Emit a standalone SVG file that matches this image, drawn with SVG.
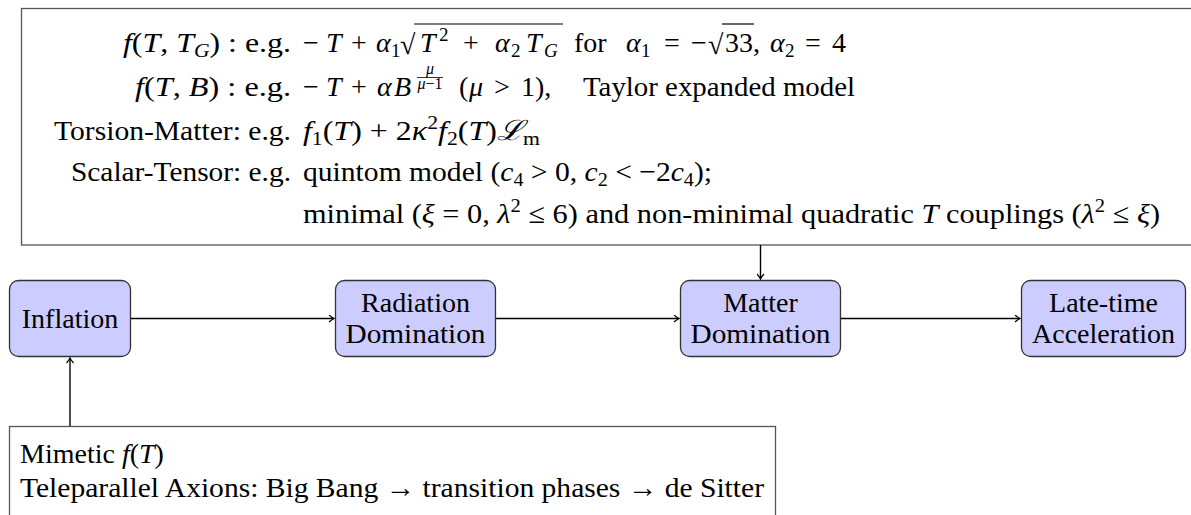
<svg xmlns="http://www.w3.org/2000/svg" width="1191" height="515" viewBox="0 0 1191 515">
<defs>
<style>
text{font-family:"Liberation Serif","DejaVu Serif",serif;font-size:28px;fill:#000}
.i{font-style:italic}
.s{font-size:19px}
.ss{font-size:16px}
.node rect{fill:#ccccff;stroke:#333;stroke-width:1.3}
.box{fill:none;stroke:#555;stroke-width:1.3}
.conn line{stroke:#000;stroke-width:1.4}
.vin{stroke:#000;stroke-width:1.2}
</style>
<marker id="ar" viewBox="-6 -4 7 8" refX="0" refY="0" markerWidth="7" markerHeight="8" markerUnits="userSpaceOnUse" orient="auto">
<path d="M-5,-3.5 Q-1.5,-0.6 0,0 Q-1.5,0.6 -5,3.5" fill="none" stroke="#000" stroke-width="1.2"/>
</marker>
</defs>
<rect width="1191" height="515" fill="#fff"/>

<g id="top-box">
<rect class="box" x="21.5" y="8.5" width="1200" height="236.5"/>
<!-- line 1 -->
<text x="291" y="52" text-anchor="end" textLength="168" lengthAdjust="spacingAndGlyphs"><tspan class="i">f</tspan>(<tspan class="i">T</tspan>, <tspan class="i">T</tspan><tspan class="s i" dy="5">G</tspan><tspan dy="-5">) : e.g.</tspan></text>
<text y="52"><tspan x="303">−</tspan><tspan x="326" class="i">T</tspan><tspan x="351">+</tspan><tspan x="376" class="i">α</tspan><tspan x="391" class="s" dy="5">1</tspan></text>
<text x="400" y="54">√</text>
<line class="vin" x1="414" y1="24" x2="563" y2="24"/>
<text y="52"><tspan x="420" class="i">T</tspan><tspan x="439" class="s" dy="-11">2</tspan><tspan x="463" dy="11">+</tspan><tspan x="495" class="i">α</tspan><tspan x="511" class="s" dy="5">2</tspan><tspan x="526" class="i" dy="-5">T</tspan><tspan x="544" class="s i" dy="5">G</tspan></text>
<text x="574" y="52">for</text>
<text y="52"><tspan x="626" class="i">α</tspan><tspan x="641" class="s" dy="5">1</tspan><tspan x="664" dy="-5">=</tspan><tspan x="691">−</tspan></text>
<text x="708" y="54">√</text>
<line class="vin" x1="722" y1="24" x2="754" y2="24"/>
<text y="52"><tspan x="725">33,</tspan><tspan x="770" class="i">α</tspan><tspan x="785" class="s" dy="5">2</tspan><tspan x="805" dy="-5">=</tspan><tspan x="832">4</tspan></text>
<!-- line 2 -->
<text x="291" y="96" text-anchor="end" textLength="156" lengthAdjust="spacingAndGlyphs"><tspan class="i">f</tspan>(<tspan class="i">T</tspan>, <tspan class="i">B</tspan>) : e.g.</text>
<text y="96"><tspan x="303">−</tspan><tspan x="326" class="i">T</tspan><tspan x="351">+</tspan><tspan x="377" class="i">α</tspan><tspan x="394" class="i">B</tspan></text>
<text class="ss i" x="430" y="74" text-anchor="middle">μ</text>
<line class="vin" x1="417" y1="77.5" x2="443" y2="77.5" style="stroke-width:0.8"/>
<text class="ss" x="430" y="89" text-anchor="middle"><tspan class="i">μ</tspan>−1</text>
<text y="96"><tspan x="459">(</tspan><tspan x="469" class="i">μ</tspan><tspan x="494">&gt;</tspan><tspan x="521">1),</tspan></text>
<text x="583" y="96" textLength="272" lengthAdjust="spacingAndGlyphs">Taylor expanded model</text>
<!-- line 3 -->
<text x="291" y="140" text-anchor="end" textLength="237" lengthAdjust="spacingAndGlyphs">Torsion-Matter: e.g.</text>
<text x="303" y="140" textLength="237" lengthAdjust="spacingAndGlyphs"><tspan class="i">f</tspan><tspan class="s" dy="5">1</tspan><tspan dy="-5">(</tspan><tspan class="i">T</tspan>) + 2<tspan class="i">κ</tspan><tspan class="s" dy="-11">2</tspan><tspan class="i" dy="11">f</tspan><tspan class="s" dy="5">2</tspan><tspan dy="-5">(</tspan><tspan class="i">T</tspan>)<tspan class="i">ℒ</tspan><tspan class="s" dy="5">m</tspan></text>
<!-- line 4 -->
<text x="291" y="181" text-anchor="end" textLength="220" lengthAdjust="spacingAndGlyphs">Scalar-Tensor: e.g.</text>
<text x="303" y="181" textLength="409" lengthAdjust="spacingAndGlyphs">quintom model (<tspan class="i">c</tspan><tspan class="s" dy="5">4</tspan><tspan dy="-5"> &gt; 0, </tspan><tspan class="i">c</tspan><tspan class="s" dy="5">2</tspan><tspan dy="-5"> &lt; −2</tspan><tspan class="i">c</tspan><tspan class="s" dy="5">4</tspan><tspan dy="-5">);</tspan></text>
<!-- line 5 -->
<text x="303" y="223" textLength="857" lengthAdjust="spacingAndGlyphs">minimal (<tspan class="i">ξ</tspan> = 0, <tspan class="i">λ</tspan><tspan class="s" dy="-11">2</tspan><tspan dy="11"> ≤ 6) and non-minimal quadratic </tspan><tspan class="i">T</tspan> couplings (<tspan class="i">λ</tspan><tspan class="s" dy="-11">2</tspan><tspan dy="11"> ≤ </tspan><tspan class="i">ξ</tspan>)</text>
</g>

<g id="bottom-box">
<rect class="box" x="9.5" y="426.5" width="766" height="120"/>
<text x="20" y="463"><tspan>Mimetic </tspan><tspan class="i">f</tspan>(<tspan class="i">T</tspan>)</text>
<text x="20" y="497" textLength="744" lengthAdjust="spacingAndGlyphs">Teleparallel Axions: Big Bang → transition phases → de Sitter</text>
</g>

<g id="node-inflation" class="node">
<rect x="9.5" y="280.5" width="121" height="76" rx="9"/>
<text x="70" y="328" text-anchor="middle">Inflation</text>
</g>
<g id="node-radiation" class="node">
<rect x="335.5" y="280.5" width="160" height="76" rx="9"/>
<text x="415.5" y="312" text-anchor="middle">Radiation</text>
<text x="415.5" y="343" text-anchor="middle" textLength="140" lengthAdjust="spacingAndGlyphs">Domination</text>
</g>
<g id="node-matter" class="node">
<rect x="680.5" y="280.5" width="160" height="76" rx="9"/>
<text x="760.5" y="312" text-anchor="middle">Matter</text>
<text x="760.5" y="343" text-anchor="middle" textLength="140" lengthAdjust="spacingAndGlyphs">Domination</text>
</g>
<g id="node-late" class="node">
<rect x="1021.5" y="280.5" width="164" height="76" rx="9"/>
<text x="1103.5" y="312" text-anchor="middle">Late-time</text>
<text x="1103.5" y="343" text-anchor="middle">Acceleration</text>
</g>

<g id="connectors" class="conn">
<line x1="131" y1="318.5" x2="334" y2="318.5" marker-end="url(#ar)"/>
<line x1="496" y1="318.5" x2="679" y2="318.5" marker-end="url(#ar)"/>
<line x1="841" y1="318.5" x2="1020" y2="318.5" marker-end="url(#ar)"/>
<line x1="760.5" y1="245" x2="760.5" y2="279" marker-end="url(#ar)"/>
<line x1="70" y1="426" x2="70" y2="358" marker-end="url(#ar)"/>
</g>
</svg>
